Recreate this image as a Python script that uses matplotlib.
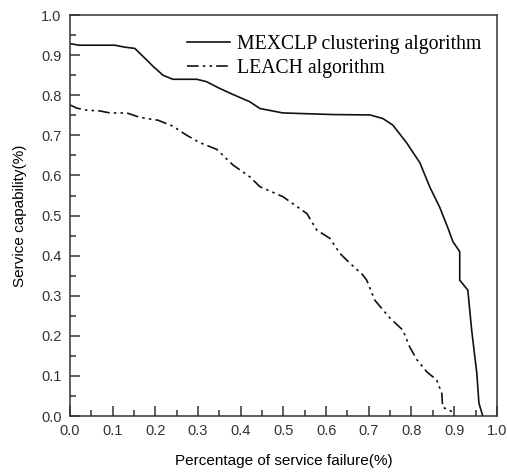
import matplotlib
matplotlib.use("Agg")
import matplotlib.pyplot as plt
from matplotlib.ticker import MultipleLocator, FormatStrFormatter

mex_x = [0.0, 0.021, 0.105, 0.129, 0.152, 0.176, 0.195, 0.218, 0.241, 0.297, 0.32, 0.351,
         0.382, 0.421, 0.445, 0.499, 0.616, 0.703, 0.733, 0.756, 0.789, 0.82, 0.843, 0.866,
         0.885, 0.897, 0.913, 0.913, 0.932, 0.941, 0.953, 0.958, 0.967]
mex_y = [0.929, 0.925, 0.925, 0.92, 0.917, 0.892, 0.872, 0.850, 0.84, 0.84, 0.834, 0.817,
         0.802, 0.784, 0.767, 0.756, 0.752, 0.751, 0.742, 0.726, 0.681, 0.631, 0.571, 0.521,
         0.47, 0.435, 0.41, 0.339, 0.314, 0.214, 0.107, 0.032, 0.0]

leach_x = [0.0, 0.016, 0.039, 0.07, 0.094, 0.133, 0.164, 0.192, 0.206, 0.241, 0.274, 0.304,
           0.344, 0.382, 0.421, 0.445, 0.499, 0.555, 0.578, 0.609, 0.632, 0.656, 0.686, 0.695,
           0.714, 0.749, 0.78, 0.796, 0.813, 0.836, 0.859, 0.871, 0.873, 0.897, 0.9]
leach_y = [0.776, 0.768, 0.763, 0.761, 0.756, 0.756, 0.745, 0.74, 0.738, 0.723, 0.70, 0.682,
           0.665, 0.626, 0.597, 0.572, 0.547, 0.505, 0.464, 0.443, 0.406, 0.381, 0.352, 0.339,
           0.289, 0.245, 0.214, 0.172, 0.14, 0.11, 0.09, 0.057, 0.022, 0.01, 0.0]

labels = ["MEXCLP clustering algorithm", "LEACH algorithm"]
x_label = "Percentage of service failure(%)"
y_label = "Service capability(%)"

plt.rcParams['font.family'] = ['Liberation Sans', 'DejaVu Sans']
fig = plt.figure(figsize=(5.07, 4.73), dpi=100)
ax = fig.add_axes([0.138, 0.1205, 0.842, 0.8475])

ax.plot(mex_x, mex_y, color='#111111', lw=1.2, label=labels[0])
ax.plot(leach_x, leach_y, color='#111111', lw=1.2, dashes=(7, 2.5, 1.5, 2.5, 1.5, 2.5),
        label=labels[1])

ax.set_xlim(0, 1.0)
ax.set_ylim(0, 1.0)
ax.xaxis.set_major_locator(MultipleLocator(0.1))
ax.xaxis.set_minor_locator(MultipleLocator(0.05))
ax.yaxis.set_major_locator(MultipleLocator(0.1))
ax.yaxis.set_minor_locator(MultipleLocator(0.05))
ax.xaxis.set_major_formatter(FormatStrFormatter('%.1f'))
ax.yaxis.set_major_formatter(FormatStrFormatter('%.1f'))
ax.tick_params(which='both', direction='in', top=False, right=False, labelsize=10.5,
               colors='#333333', width=1.1)
ax.tick_params(which='major', length=7, pad=6)
ax.tick_params(which='minor', length=4)
for s in ax.spines.values():
    s.set_linewidth(1.1)
    s.set_color('#333333')

ax.set_xlabel(x_label, fontsize=11, labelpad=11)
ax.set_ylabel(y_label, fontsize=11, labelpad=10)

leg = ax.legend(loc='upper right', frameon=False, prop={'family': 'Liberation Serif', 'size': 14.2},
                handlelength=2.15, handletextpad=0.35, borderaxespad=0.3, labelspacing=0.25,
                bbox_to_anchor=(0.995, 0.985))

fig.savefig("out.png", dpi=100)
